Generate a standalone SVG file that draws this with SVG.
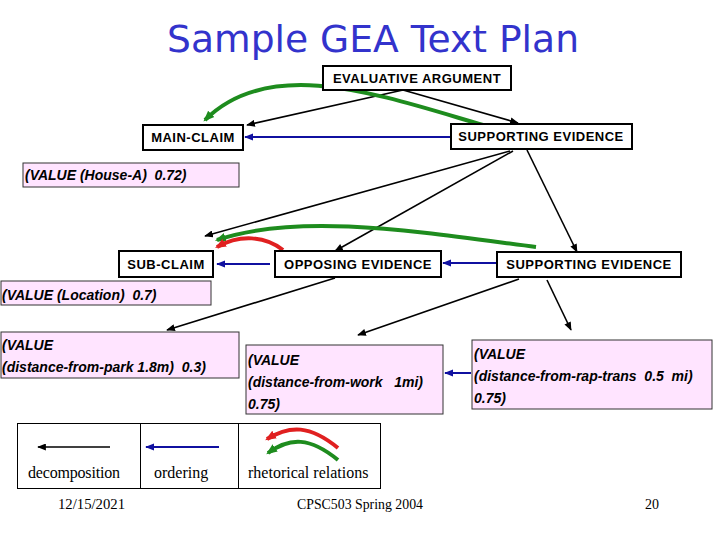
<svg xmlns="http://www.w3.org/2000/svg" width="720" height="540" viewBox="0 0 720 540">
<defs>
<style>
.node rect{fill:#fff;stroke:#000;stroke-width:2}
.node text{font-family:"Liberation Sans",Arial,sans-serif;font-weight:bold;font-size:13px;letter-spacing:0.5px;text-anchor:middle;fill:#000}
.val rect{fill:#ffe4ff;stroke:#333;stroke-width:1}
.val text{font-family:"Liberation Sans",Arial,sans-serif;font-style:italic;font-weight:bold;font-size:14px;fill:#000}
.dec{stroke:#000;stroke-width:1.6;fill:none;marker-end:url(#ab)}
.ord{stroke:#1010a0;stroke-width:2;fill:none;marker-end:url(#au)}
.grn{stroke:#1e8c1e;stroke-width:4;fill:none;marker-end:url(#ag)}
.red{stroke:#e02020;stroke-width:4;fill:none;marker-end:url(#ar)}
.leg{font-family:"Liberation Serif","Times New Roman",serif;font-size:16px;fill:#000}
.foot{font-family:"Liberation Serif","Times New Roman",serif;font-size:14px;fill:#000}
</style>
<marker id="ab" viewBox="0 0 10 8" refX="9" refY="4" markerWidth="9" markerHeight="7" markerUnits="userSpaceOnUse" orient="auto"><path d="M0,0L10,4L0,8z" fill="#000"/></marker>
<marker id="au" viewBox="0 0 10 8" refX="9" refY="4" markerWidth="9" markerHeight="8" markerUnits="userSpaceOnUse" orient="auto"><path d="M0,0L10,4L0,8z" fill="#1010a0"/></marker>
<marker id="ag" viewBox="0 0 10 8" refX="8" refY="4" markerWidth="11" markerHeight="10" markerUnits="userSpaceOnUse" orient="auto"><path d="M0,0L10,4L0,8z" fill="#1e8c1e"/></marker>
<marker id="ar" viewBox="0 0 10 8" refX="8" refY="4" markerWidth="11" markerHeight="10" markerUnits="userSpaceOnUse" orient="auto"><path d="M0,0L10,4L0,8z" fill="#e02020"/></marker>
</defs>
<rect width="720" height="540" fill="#fff"/>
<text x="373" y="52" font-family="'DejaVu Sans',sans-serif" font-size="38" fill="#3333cc" text-anchor="middle" textLength="412" lengthAdjust="spacingAndGlyphs">Sample GEA Text Plan</text>

<g id="connectors">
<path class="dec" d="M403,90L247,125"/>
<path class="dec" d="M403,90L518,123"/>
<path class="dec" d="M510,151L205,236"/>
<path class="dec" d="M513,151L335,251"/>
<path class="dec" d="M527,150L577,252"/>
<path class="dec" d="M335,278L167,330"/>
<path class="dec" d="M519,279L358,335"/>
<path class="dec" d="M547,280L571,330"/>
<path class="ord" d="M451,137L245,137"/>
<path class="ord" d="M270,264L217,264"/>
<path class="ord" d="M497,263L443,263"/>
<path class="ord" d="M471,373L445,373"/>
<path class="grn" d="M483,125C380,95 270,55 205,120"/>
<path class="grn" d="M536,247C420,232 300,212 217,240"/>
<path class="red" d="M283,250C265,236 240,234 217,247"/>
</g>

<g id="evaluative-argument" class="node"><rect x="323" y="66" width="188" height="24"/><text x="417" y="83">EVALUATIVE ARGUMENT</text></g>
<g id="main-claim" class="node"><rect x="143" y="125" width="100" height="25"/><text x="193" y="142">MAIN-CLAIM</text></g>
<g id="supporting-evidence-1" class="node"><rect x="451" y="124" width="181" height="25"/><text x="541" y="141">SUPPORTING EVIDENCE</text></g>
<g id="sub-claim" class="node"><rect x="119" y="251" width="94" height="26"/><text x="166" y="269">SUB-CLAIM</text></g>
<g id="opposing-evidence" class="node"><rect x="275" y="251" width="166" height="26"/><text x="358" y="269">OPPOSING EVIDENCE</text></g>
<g id="supporting-evidence-2" class="node"><rect x="497" y="252" width="184" height="25"/><text x="589" y="269">SUPPORTING EVIDENCE</text></g>

<g id="value-house" class="val"><rect x="23" y="163" width="216" height="24"/><text x="25" y="180" xml:space="preserve">(VALUE (House-A)  0.72)</text></g>
<g id="value-location" class="val"><rect x="1" y="281" width="210" height="24"/><text x="2" y="300" xml:space="preserve">(VALUE (Location)  0.7)</text></g>
<g id="value-park" class="val"><rect x="1" y="332" width="238" height="46"/><text x="2" y="350">(VALUE</text><text x="2" y="372" xml:space="preserve">(distance-from-park 1.8m)  0.3)</text></g>
<g id="value-work" class="val"><rect x="246" y="345" width="197" height="69"/><text x="248" y="365">(VALUE</text><text x="248" y="387" xml:space="preserve">(distance-from-work   1mi)</text><text x="248" y="409">0.75)</text></g>
<g id="value-rap" class="val"><rect x="472" y="340" width="240" height="69"/><text x="474" y="359">(VALUE</text><text x="474" y="381" xml:space="preserve">(distance-from-rap-trans  0.5  mi)</text><text x="474" y="403">0.75)</text></g>

<g id="legend">
<rect x="17.5" y="423.5" width="363" height="65" fill="none" stroke="#000" stroke-width="1"/>
<line x1="140.5" y1="423" x2="140.5" y2="489" stroke="#000"/>
<line x1="238.5" y1="423" x2="238.5" y2="489" stroke="#000"/>
<path class="dec" d="M110,447L38,447" stroke-width="2"/>
<path class="ord" d="M219,447L146,447"/>
<path class="red" d="M338,448C310,425 290,425 267,439"/>
<path class="grn" d="M338,460C310,437 290,437 268,453"/>
<text class="leg" x="28" y="478" textLength="92">decomposition</text>
<text class="leg" x="154" y="478">ordering</text>
<text class="leg" x="248" y="478">rhetorical relations</text>
</g>

<text class="foot" x="58" y="509" textLength="67" lengthAdjust="spacingAndGlyphs">12/15/2021</text>
<text class="foot" x="297" y="509" textLength="126" lengthAdjust="spacingAndGlyphs">CPSC503 Spring 2004</text>
<text class="foot" x="645" y="509">20</text>
</svg>
